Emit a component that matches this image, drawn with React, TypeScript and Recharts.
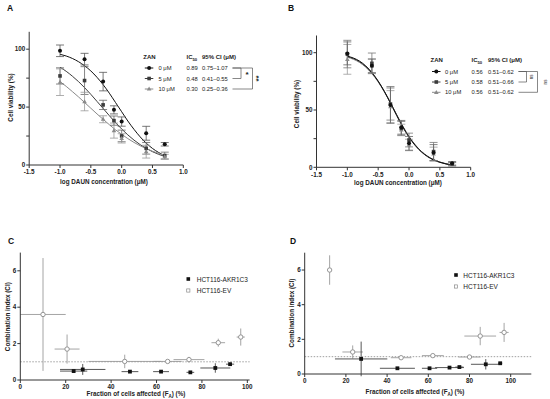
import React from 'react';
import { ComposedChart, ScatterChart, Scatter, Line, XAxis, YAxis, ErrorBar, ReferenceLine } from 'recharts';

const FONT = '"Liberation Sans", Arial, Helvetica, sans-serif';

// ---- A / B: cell viability vs log DAUN
const logDaun = [-1, -0.602, -0.301, -0.125, 0, 0.398, 0.699];

const viabA0 = [98.6, 91.4, 72.0, 47.6, 37.5, 27.4, 17.9];
const sdA0 = [5, 5, 8, 3.5, 4, 6, 1.5];
const viabA5 = [76.9, 72.9, 51.9, 38.3, 25.1, 14.4, 8.1];
const sdA5 = [7, 12, 4, 4, 5, 5, 3];
const viabA10 = [71.5, 54.8, 39.5, 29.7, 23.0, 11.5, 7.2];
const sdA10 = [11.5, 8, 3, 6.5, 4, 5.5, 2];

const viabB0 = [99.4, 88.5, 54.4, 34.9, 20.9, 12.8, 3.5];
const sdB0 = [10, 6, 16, 6, 6, 7, 1.5];
const viabB5 = [98.8, 90.7, 55.2, 34.0, 23.8, 13.7, 2.9];
const sdB5 = [12, 9, 14, 6, 6, 8, 1.5];
const viabB10 = [94.2, 88.4, 52.9, 32.6, 19.5, 11.6, 2.6];
const sdB10 = [13, 6, 14, 5, 5, 6, 1.5];

// fitted curves
const fitX = [-1, -0.9, -0.8, -0.7, -0.6, -0.5, -0.4, -0.3, -0.2, -0.1, 0, 0.1, 0.2, 0.3, 0.4, 0.5, 0.6, 0.7];
const fitA0 = [95.6, 94.1, 92.0, 89.2, 85.6, 81.2, 75.7, 69.3, 62.0, 54.0, 46.0, 38.0, 30.8, 24.3, 18.8, 14.3, 10.8, 8.0];
const fitA5 = [84.4, 80.9, 76.7, 72.0, 66.7, 61.0, 54.9, 48.8, 42.6, 36.6, 31.1, 26.0, 21.5, 17.6, 14.3, 11.5, 9.2, 7.4];
const fitA10 = [72.0, 67.9, 63.4, 58.8, 53.9, 49.0, 44.1, 39.4, 34.8, 30.4, 26.5, 22.8, 19.5, 16.6, 14.1, 11.9, 10.0, 8.3];
const fitB0 = [97.0, 95.3, 92.6, 88.4, 82.6, 75.2, 66.2, 55.9, 45.2, 35.0, 26.2, 19.0, 13.4, 9.3, 6.3, 4.3, 2.9, 1.9];
const fitB5 = [96.6, 94.8, 92.0, 87.8, 82.2, 75.0, 66.3, 56.4, 45.9, 35.8, 26.9, 19.6, 13.9, 9.7, 6.7, 4.6, 3.1, 2.1];
const fitB10 = [96.0, 94.2, 91.4, 87.2, 81.6, 74.4, 65.7, 55.9, 45.5, 35.5, 26.7, 19.4, 13.8, 9.6, 6.6, 4.5, 3.0, 2.0];

const logTicks = [-1.5, -1, -0.5, 0, 0.5, 1];
const viabTicks = [0, 25, 50, 75, 100];

const zanLabels = ['0 μM', '5 μM', '10 μM'];
const icA = ['0.89', '0.48', '0.30'];
const ciA = ['0.75–1.07', '0.41–0.55', '0.25–0.36'];
const icB = ['0.56', '0.58', '0.56'];
const ciB = ['0.51–0.62', '0.51–0.66', '0.51–0.62'];

// ---- C / D: combination index vs fraction affected
const faEvC = [10, 20.6, 46, 64.9, 74.3, 87.2, 97.1];
const faEvCErr = [10, 5.5, 16, 6.2, 6.8, 3, 1.8];
const ciEvC = [3.6, 1.7, 1.02, 1.02, 1.12, 2.05, 2.36];
const ciEvCErr = [3.1, 0.8, 0.37, 0.05, 0.15, 0.22, 0.47];
const faAkC = [23.5, 27.5, 48.3, 62, 74.9, 85.9, 92.4];
const faAkCErr = [6, 10, 3.7, 3.5, 1.7, 6.6, 1.8];
const ciAkC = [0.49, 0.58, 0.46, 0.46, 0.42, 0.66, 0.87];
const ciAkCErr = [0.06, 0.3, 0.05, 0.05, 0.04, 0.26, 0.08];

const faEvD = [12.1, 23.3, 46.8, 62.2, 80, 85.2, 96.8];
const faEvDErr = [0, 5, 5, 5.3, 5.4, 7.7, 2.2];
const ciEvD = [6.0, 1.27, 0.94, 1.06, 0.98, 2.19, 2.4];
const ciEvDErr = [0.85, 0.38, 0.05, 0.05, 0.1, 0.53, 0.55];
const faAkD = [27.4, 45, 60.6, 70.3, 75.1, 87.9, 94.9];
const faAkDErr = [12.7, 8.5, 3.7, 7, 2, 7.2, 1];
const ciAkD = [0.87, 0.33, 0.33, 0.37, 0.4, 0.56, 0.62];
const ciAkDErr = [1.0, 0.05, 0.05, 0.05, 0.05, 0.3, 0.05];

const faTicks = [0, 20, 40, 60, 80, 100];
const ciTicks = [0, 2, 4, 6];

const toPts = (ys: number[], es: number[]) => logDaun.map((x, i) => ({ x, y: ys[i], e: es[i] }));
const toFit = (ys: number[]) => fitX.map((x, i) => ({ x, y: ys[i] }));
const toCi = (fa: number[], faErr: number[], ci: number[], ciErr: number[]) =>
  fa.map((x, i) => ({ x, y: ci[i], ex: faErr[i], ey: ciErr[i] }));

const dotShape = (fill: string) => (p: any) => <circle cx={p.cx} cy={p.cy} r={2} fill={fill} />;
const squareShape = (fill: string, s = 4) => (p: any) => (
  <rect x={p.cx - s / 2} y={p.cy - s / 2} width={s} height={s} fill={fill} />
);
const triShape = (fill: string) => (p: any) => (
  <path d={`M${p.cx},${p.cy - 2.4}L${p.cx + 2.3},${p.cy + 1.6}L${p.cx - 2.3},${p.cy + 1.6}Z`} fill={fill} />
);
const ringShape = (stroke: string) => (p: any) => (
  <circle cx={p.cx} cy={p.cy} r={2.2} fill="#fff" stroke={stroke} strokeWidth={0.9} />
);

const axisLine = { stroke: '#333', strokeWidth: 1 };
const tickStyle = { fontSize: 6.3, fontWeight: 700, fill: '#222', fontFamily: FONT };

const C0 = '#111';
const C5 = '#3c3c3c';
const C10 = '#8a8a8a';

function DosePanel({ left, top, plot, series }: any) {
  const W = 275, H = 200, yW = 25, xH = 20;
  return (
    <div style={{ position: 'absolute', left, top }}>
      <ComposedChart
        width={W}
        height={H}
        margin={{ left: plot.l - yW, right: W - plot.r, top: plot.t, bottom: H - plot.b - xH }}
      >
        <XAxis type="number" dataKey="x" domain={[-1.5, 1]} ticks={logTicks} interval={0}
          tickFormatter={(v: number) => v.toFixed(1)} height={xH} tickSize={3}
          tick={tickStyle} axisLine={axisLine} tickLine={axisLine} allowDataOverflow />
        <YAxis type="number" dataKey="y" domain={[0, 115]} ticks={viabTicks} interval={0}
          tickFormatter={(v: number) => (v % 50 === 0 ? String(v) : '')} width={yW} tickSize={3} tickMargin={1}
          tick={tickStyle} axisLine={axisLine} tickLine={axisLine} allowDataOverflow />
        {series.map((s: any, i: number) => (
          <Line key={'f' + i} data={s.fit} dataKey="y" type="monotone" dot={false} stroke={s.color}
            strokeWidth={1} isAnimationActive={false} />
        ))}
        {series.map((s: any, i: number) => (
          <Scatter key={'p' + i} data={s.pts} dataKey="y" shape={s.shape} isAnimationActive={false}>
            <ErrorBar dataKey="e" direction="y" width={4} stroke={s.errColor} strokeWidth={0.8} />
          </Scatter>
        ))}
      </ComposedChart>
    </div>
  );
}

function CiPanel({ left, top, plot, xMax, ev, ak }: any) {
  const W = 275, H = 199, yW = 16, xH = 12;
  return (
    <div style={{ position: 'absolute', left, top }}>
      <ScatterChart
        width={W}
        height={H}
        margin={{ left: plot.l - yW, right: W - plot.r, top: plot.t, bottom: H - plot.b - xH }}
      >
        <XAxis type="number" dataKey="x" domain={[0, xMax]} ticks={faTicks} interval={0} height={xH}
          tickSize={3} tick={tickStyle} axisLine={axisLine} tickLine={axisLine} allowDataOverflow />
        <YAxis type="number" dataKey="y" domain={[0, 7]} ticks={ciTicks} interval={0} width={yW}
          tickSize={3} tickMargin={1} tick={tickStyle} axisLine={axisLine} tickLine={axisLine} allowDataOverflow />
        <ReferenceLine y={1} stroke="#777" strokeWidth={0.7} strokeDasharray="1.5 1.5" />
        <Scatter data={ev} shape={ringShape('#8a8a8a')} isAnimationActive={false}>
          <ErrorBar dataKey="ex" direction="x" width={0} stroke="#9a9a9a" strokeWidth={0.9} />
          <ErrorBar dataKey="ey" direction="y" width={0} stroke="#9a9a9a" strokeWidth={0.9} />
        </Scatter>
        <Scatter data={ak} shape={squareShape('#111', 3.8)} isAnimationActive={false}>
          <ErrorBar dataKey="ex" direction="x" width={0} stroke="#444" strokeWidth={0.9} />
          <ErrorBar dataKey="ey" direction="y" width={0} stroke="#444" strokeWidth={0.9} />
        </Scatter>
      </ScatterChart>
    </div>
  );
}

function ZanLegend({ x, y, rows, ic, ci, cols, marks }: any) {
  const shapes = [dotShape(C0), squareShape(C5, 3.6), triShape(C10)];
  const colors = [C0, C5, C10];
  return (
    <g fontFamily={FONT} fill="#222">
      <text x={x} y={y} fontSize={6} fontWeight={700}>ZAN</text>
      <text x={cols.ic} y={y} fontSize={6} fontWeight={700}>
        IC<tspan fontSize={4.2} dy={1.5}>50</tspan>
      </text>
      <text x={cols.ci} y={y} fontSize={6} fontWeight={700}>95% CI (μM)</text>
      {zanLabels.map((lab, i) => {
        const cy = rows[i];
        return (
          <g key={lab}>
            <line x1={x + 1.5} x2={x + 10} y1={cy} y2={cy} stroke={colors[i]} strokeWidth={1} />
            {shapes[i]({ cx: x + 5.8, cy })}
            <text x={cols.lab} y={cy + 2} fontSize={5.8}>{lab}</text>
            <text x={cols.ic} y={cy + 2} fontSize={5.8}>{ic[i]}</text>
            <text x={cols.ci} y={cy + 2} fontSize={5.8}>{ci[i]}</text>
          </g>
        );
      })}
      {marks}
    </g>
  );
}

function Bracket({ x1, x2, y1, y2 }: any) {
  return (
    <path d={`M${x1},${y1}H${x2}V${y2}H${x1}`} fill="none" stroke="#555" strokeWidth={0.7} />
  );
}

function RotText({ x, y, size, bold, children }: any) {
  return (
    <text transform={`translate(${x},${y}) rotate(-90)`} textAnchor="middle" dominantBaseline="central"
      fontSize={size} fontWeight={bold ? 700 : 400} fontFamily={FONT} fill="#222">
      {children}
    </text>
  );
}

export default function App() {
  const seriesA = [
    { pts: toPts(viabA0, sdA0), fit: toFit(fitA0), color: C0, errColor: '#555', shape: dotShape(C0) },
    { pts: toPts(viabA5, sdA5), fit: toFit(fitA5), color: C5, errColor: '#666', shape: squareShape(C5, 3.6) },
    { pts: toPts(viabA10, sdA10), fit: toFit(fitA10), color: C10, errColor: '#999', shape: triShape(C10) },
  ];
  const seriesB = [
    { pts: toPts(viabB10, sdB10), fit: toFit(fitB10), color: C10, errColor: '#999', shape: triShape(C10) },
    { pts: toPts(viabB5, sdB5), fit: toFit(fitB5), color: C5, errColor: '#777', shape: squareShape(C5, 3.6) },
    { pts: toPts(viabB0, sdB0), fit: toFit(fitB0), color: C0, errColor: '#666', shape: dotShape(C0) },
  ];
  const aRow = [68, 78.5, 89];
  const bRow = [71.5, 82, 92.3];

  return (
    <div style={{ position: 'absolute', left: 0, top: 0, width: 550, height: 399, background: '#fff', overflow: 'hidden' }}>
      <DosePanel left={0} top={0} plot={{ l: 29.2, r: 183.3, t: 31.8, b: 165 }} series={seriesA} />
      <DosePanel left={275} top={0} plot={{ l: 41.5, r: 195.7, t: 35.5, b: 167.3 }} series={seriesB} />
      <CiPanel left={0} top={200} plot={{ l: 20.3, r: 249.6, t: 52.6, b: 180 }} xMax={101}
        ev={toCi(faEvC, faEvCErr, ciEvC, ciEvCErr)} ak={toCi(faAkC, faAkCErr, ciAkC, ciAkCErr)} />
      <CiPanel left={275} top={200} plot={{ l: 29.7, r: 256.3, t: 52.7, b: 174 }} xMax={110}
        ev={toCi(faEvD, faEvDErr, ciEvD, ciEvDErr)} ak={toCi(faAkD, faAkDErr, ciAkD, ciAkDErr)} />

      <svg width={550} height={399} style={{ position: 'absolute', left: 0, top: 0, pointerEvents: 'none' }}>
        <g fontFamily={FONT} fontWeight={700} fill="#111" fontSize={8.5}>
          <text x={7} y={11}>A</text>
          <text x={288} y={11}>B</text>
          <text x={8} y={243.5}>C</text>
          <text x={290} y={243.5}>D</text>
        </g>

        {/* axis titles */}
        <g fontFamily={FONT} fontWeight={700} fill="#222" fontSize={6.3} textAnchor="middle">
          <text x={104} y={184}>log DAUN concentration (μM)</text>
          <text x={398} y={184.5}>log DAUN concentration (μM)</text>
          <text x={136} y={396}>Fraction of cells affected (F<tspan fontSize={4.5} dy={1.5}>A</tspan><tspan dy={-1.5}>) (%)</tspan></text>
          <text x={415} y={394}>Fraction of cells affected (F<tspan fontSize={4.5} dy={1.5}>A</tspan><tspan dy={-1.5}>) (%)</tspan></text>
        </g>
        <RotText x={10} y={97.5} size={6.3} bold>Cell viability (%)</RotText>
        <RotText x={296.7} y={104} size={6.3} bold>Cell viability (%)</RotText>
        <RotText x={7.5} y={316.7} size={6.3} bold>Combination index (CI)</RotText>
        <RotText x={291} y={313} size={6.3} bold>Combination index (CI)</RotText>

        {/* ZAN tables */}
        <ZanLegend x={143.3} y={59} rows={aRow} ic={icA} ci={ciA} cols={{ lab: 158.5, ic: 186.5, ci: 202 }}
          marks={
            <g>
              <Bracket x1={232.5} x2={241} y1={aRow[0]} y2={aRow[1]} />
              <Bracket x1={232.5} x2={252.5} y1={aRow[0]} y2={aRow[2]} />
              <text x={247} y={76.5} fontSize={8} fontWeight={700} textAnchor="middle">*</text>
              <RotText x={258.5} y={78.5} size={8} bold>**</RotText>
            </g>
          } />
        <ZanLegend x={430.5} y={62} rows={bRow} ic={icB} ci={ciB} cols={{ lab: 445, ic: 471.5, ci: 488 }}
          marks={
            <g>
              <Bracket x1={518.5} x2={526.5} y1={bRow[0]} y2={bRow[1]} />
              <Bracket x1={518.5} x2={537.5} y1={bRow[0]} y2={bRow[2]} />
              <RotText x={531.5} y={76.8} size={4.5}>ns</RotText>
              <RotText x={545} y={82} size={4.5}>ns</RotText>
            </g>
          } />

        {/* C / D legends */}
        <g fontFamily={FONT} fontSize={6.5} fill="#222">
          <rect x={186.5} y={277.2} width={3.6} height={3.6} fill="#111" />
          <text x={196.7} y={281.5}>HCT116-AKR1C3</text>
          <rect x={186.7} y={288.9} width={3.2} height={3.2} fill="#fff" stroke="#8a8a8a" strokeWidth={0.7} />
          <text x={196.7} y={292.8}>HCT116-EV</text>
          <rect x={454.2} y={273.2} width={3.6} height={3.6} fill="#111" />
          <text x={463.3} y={277.5}>HCT116-AKR1C3</text>
          <rect x={454.4} y={284.9} width={3.2} height={3.2} fill="#fff" stroke="#8a8a8a" strokeWidth={0.7} />
          <text x={463.3} y={288.8}>HCT116-EV</text>
        </g>
      </svg>
    </div>
  );
}
